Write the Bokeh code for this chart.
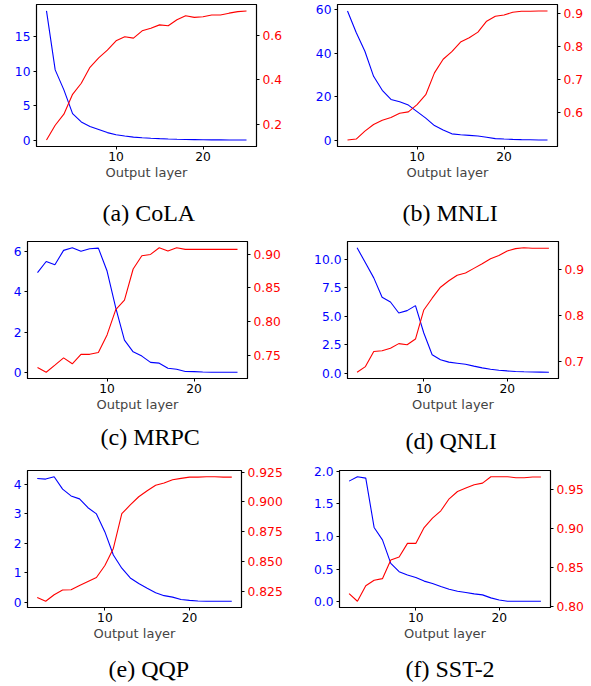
from bokeh.plotting import figure
from bokeh.models import LinearAxis, Range1d, FixedTicker, Title
from bokeh.layouts import row, column
from bokeh.embed import file_html
from bokeh.resources import INLINE

LAYERS = list(range(2, 26))

COLA_LOSS = [18.75, 10.2, 7.3, 3.85, 2.65, 2.0, 1.55, 1.1, 0.8, 0.6, 0.45, 0.35, 0.28, 0.22,
             0.17, 0.13, 0.1, 0.08, 0.06, 0.05, 0.04, 0.03, 0.02, 0.02]
COLA_ACC = [0.128, 0.195, 0.245, 0.335, 0.385, 0.457, 0.50, 0.535, 0.577, 0.595, 0.589, 0.622,
            0.634, 0.649, 0.645, 0.672, 0.69, 0.683, 0.686, 0.694, 0.694, 0.702, 0.709, 0.712]

MNLI_LOSS = [59.4, 49.5, 40.9, 29.4, 23.0, 18.8, 17.7, 16.2, 13.2, 10.2, 6.8, 4.8, 3.0, 2.6,
             2.3, 2.0, 1.4, 0.8, 0.6, 0.45, 0.35, 0.3, 0.2, 0.15]
MNLI_ACC = [0.518, 0.521, 0.545, 0.565, 0.578, 0.586, 0.599, 0.603, 0.625, 0.655, 0.721, 0.762,
            0.785, 0.814, 0.827, 0.844, 0.877, 0.892, 0.896, 0.904, 0.907, 0.907, 0.908, 0.908]

MRPC_LOSS = [4.94, 5.49, 5.33, 6.04, 6.17, 6.0, 6.12, 6.15, 5.02, 3.2, 1.61, 1.03, 0.82, 0.51,
             0.47, 0.22, 0.17, 0.06, 0.05, 0.03, 0.02, 0.02, 0.02, 0.02]
MRPC_ACC = [0.7325, 0.7255, 0.736, 0.7467, 0.738, 0.752, 0.752, 0.7547, 0.7807, 0.818, 0.832,
            0.878, 0.8976, 0.8995, 0.9094, 0.9047, 0.9094, 0.907, 0.907, 0.907, 0.907, 0.907,
            0.907, 0.907]

QNLI_LOSS = [11.03, 9.7, 8.38, 6.68, 6.26, 5.29, 5.5, 5.94, 3.53, 1.62, 1.18, 0.97, 0.88, 0.79,
             0.62, 0.47, 0.35, 0.26, 0.2, 0.15, 0.12, 0.1, 0.09, 0.08]
QNLI_ACC = [0.6766, 0.689, 0.722, 0.7234, 0.729, 0.739, 0.7365, 0.749, 0.8124, 0.838, 0.862,
            0.876, 0.888, 0.893, 0.903, 0.913, 0.924, 0.931, 0.941, 0.946, 0.948, 0.947, 0.947,
            0.947]

QQP_LOSS = [4.19, 4.17, 4.25, 3.83, 3.6, 3.5, 3.2, 2.99, 2.38, 1.6, 1.15, 0.82, 0.63, 0.47,
            0.32, 0.22, 0.17, 0.09, 0.06, 0.04, 0.03, 0.03, 0.03, 0.03]
QQP_ACC = [0.8198, 0.8167, 0.8222, 0.8261, 0.8264, 0.83, 0.8333, 0.8366, 0.8467, 0.861, 0.8902,
           0.8975, 0.9044, 0.9094, 0.914, 0.916, 0.9187, 0.9198, 0.9209, 0.9209, 0.9212, 0.9212,
           0.9209, 0.9209]

SST2_LOSS = [1.846, 1.913, 1.892, 1.138, 0.949, 0.59, 0.462, 0.41, 0.374, 0.318, 0.282, 0.236,
             0.195, 0.164, 0.144, 0.123, 0.108, 0.062, 0.03, 0.01, 0.01, 0.01, 0.01, 0.01]
SST2_ACC = [0.817, 0.8072, 0.8269, 0.834, 0.836, 0.8597, 0.8636, 0.8809, 0.8809, 0.901, 0.913,
            0.9224, 0.9377, 0.947, 0.9513, 0.9556, 0.9577, 0.9658, 0.9658, 0.9658, 0.9645,
            0.9645, 0.9654, 0.9654]

X_TICKS = [10, 20]
X_LABELS = ["10", "20"]

COLA_LT, COLA_LL = [0, 5, 10, 15], ["0", "5", "10", "15"]
COLA_RT, COLA_RL = [0.2, 0.4, 0.6], ["0.2", "0.4", "0.6"]
MNLI_LT, MNLI_LL = [0, 20, 40, 60], ["0", "20", "40", "60"]
MNLI_RT, MNLI_RL = [0.6, 0.7, 0.8, 0.9], ["0.6", "0.7", "0.8", "0.9"]
MRPC_LT, MRPC_LL = [0, 2, 4, 6], ["0", "2", "4", "6"]
MRPC_RT, MRPC_RL = [0.75, 0.80, 0.85, 0.90], ["0.75", "0.80", "0.85", "0.90"]
QNLI_LT, QNLI_LL = [0, 2.5, 5, 7.5, 10], ["0.0", "2.5", "5.0", "7.5", "10.0"]
QNLI_RT, QNLI_RL = [0.7, 0.8, 0.9], ["0.7", "0.8", "0.9"]
QQP_LT, QQP_LL = [0, 1, 2, 3, 4], ["0", "1", "2", "3", "4"]
QQP_RT, QQP_RL = [0.825, 0.85, 0.875, 0.9, 0.925], ["0.825", "0.850", "0.875", "0.900", "0.925"]
SST2_LT, SST2_LL = [0, 0.5, 1.0, 1.5, 2.0], ["0.0", "0.5", "1.0", "1.5", "2.0"]
SST2_RT, SST2_RL = [0.80, 0.85, 0.90, 0.95], ["0.80", "0.85", "0.90", "0.95"]

CAPTIONS = ["(a) CoLA", "(b) MNLI", "(c) MRPC", "(d) QNLI", "(e) QQP", "(f) SST-2"]

TICK_FONT = "12.3px"
SANS = "DejaVu Sans"


def padded(vals):
    lo, hi = min(vals), max(vals)
    pad = (hi - lo) * 0.05
    return lo - pad, hi + pad


def style_axis(ax, color, ticks, labels, standoff):
    ax.ticker = FixedTicker(ticks=ticks)
    ax.major_label_overrides = {t: l for t, l in zip(ticks, labels)}
    ax.major_label_text_color = color
    ax.major_label_text_font = SANS
    ax.major_label_text_font_size = TICK_FONT
    ax.major_tick_in = 0
    ax.major_tick_out = 3
    ax.major_tick_line_color = "black"
    ax.minor_tick_line_color = None
    ax.axis_line_color = "black"
    ax.major_label_standoff = standoff


def panel(loss, acc, lt, ll, rt, rl, caption, w, h, bl, br, bt, bb, gap, cap_off):
    xs = padded(LAYERS)
    yl = padded(loss)
    yr = padded(acc)
    p = figure(width=w, height=h, output_backend="svg", toolbar_location=None,
               x_range=Range1d(*xs), y_range=Range1d(*yl),
               min_border_left=bl, min_border_right=br, min_border_top=bt,
               min_border_bottom=bb)
    p.extra_y_ranges = {"acc": Range1d(*yr)}
    p.line(LAYERS, loss, color="#0000ff", line_width=1.1)
    p.line(LAYERS, acc, color="#ff0000", line_width=1.1, y_range_name="acc")
    ra = LinearAxis(y_range_name="acc")
    p.add_layout(ra, "right")
    style_axis(p.yaxis[0], "#0000ff", lt, ll, 3)
    style_axis(ra, "#ff0000", rt, rl, 3)
    style_axis(p.xaxis[0], "black", X_TICKS, X_LABELS, 2)
    p.xaxis[0].axis_label = "Output layer"
    p.xaxis[0].axis_label_text_font = SANS
    p.xaxis[0].axis_label_text_font_size = "13px"
    p.xaxis[0].axis_label_text_font_style = "normal"
    p.xaxis[0].axis_label_standoff = 1
    p.xgrid.visible = False
    p.ygrid.visible = False
    p.outline_line_color = "black"
    p.outline_line_width = 1.2
    p.outline_line_alpha = 1
    p.background_fill_color = "white"
    p.border_fill_color = "white"
    # blank (white-on-white) spacer axis that opens the gap above the sub-caption
    spacer = LinearAxis(ticker=FixedTicker(ticks=X_TICKS), major_tick_out=gap,
                        major_tick_in=0, major_tick_line_color="white",
                        minor_tick_line_color=None, axis_line_color="white",
                        major_label_overrides={t: "" for t in X_TICKS},
                        major_label_text_color="white", major_label_text_font_size="1px",
                        major_label_standoff=0)
    p.add_layout(spacer, "below")
    t = Title(text=caption, align="left", offset=cap_off, vertical_align="top", standoff=0,
              text_font="Liberation Serif", text_font_size="24px", text_font_style="normal",
              text_color="black")
    p.add_layout(t, "below")
    return p


pa = panel(COLA_LOSS, COLA_ACC, COLA_LT, COLA_LL, COLA_RT, COLA_RL, CAPTIONS[0],
           300, 230, 36, 44, 4, 84, 17, 66)
pb = panel(MNLI_LOSS, MNLI_ACC, MNLI_LT, MNLI_LL, MNLI_RT, MNLI_RL, CAPTIONS[1],
           291, 230, 37, 34, 4, 84, 17, 65)
pc = panel(MRPC_LOSS, MRPC_ACC, MRPC_LT, MRPC_LL, MRPC_RT, MRPC_RL, CAPTIONS[2],
           300, 229, 27, 53, 3, 81, 9, 73)
pd = panel(QNLI_LOSS, QNLI_ACC, QNLI_LT, QNLI_LL, QNLI_RT, QNLI_RL, CAPTIONS[3],
           291, 229, 47, 33, 11, 80, 13, 58)
pe = panel(QQP_LOSS, QQP_ACC, QQP_LT, QQP_LL, QQP_RT, QQP_RL, CAPTIONS[4],
           300, 227, 27, 59, 9, 79, 12, 81)
pf = panel(SST2_LOSS, SST2_ACC, SST2_LT, SST2_LL, SST2_RT, SST2_RL, CAPTIONS[5],
           291, 227, 39, 41, 11, 79, 12, 66)

layout = column(row(pa, pb), row(pc, pd), row(pe, pf))

open("out.html", "w").write(file_html(layout, INLINE))
